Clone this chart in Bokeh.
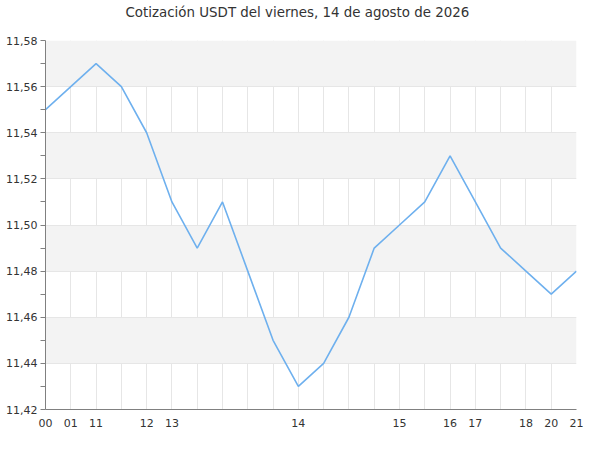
from bokeh.plotting import figure
from bokeh.models import FixedTicker, CustomJSTickFormatter, Range1d, Title
from bokeh.embed import file_html
from bokeh.resources import INLINE

# Data
idx = list(range(22))
valores = [11.55, 11.56, 11.57, 11.56, 11.54, 11.51, 11.49, 11.51, 11.48, 11.45, 11.43,
           11.44, 11.46, 11.49, 11.50, 11.51, 11.53, 11.51, 11.49, 11.48, 11.47, 11.48]
tick_pos = [0, 1, 2, 4, 5, 10, 14, 16, 17, 19, 20, 21]
tick_labels = ["00", "01", "11", "12", "13", "14", "15", "16", "17", "18", "20", "21"]
y_ticks = [11.42, 11.44, 11.46, 11.48, 11.50, 11.52, 11.54, 11.56, 11.58]
y_minor = [11.43, 11.45, 11.47, 11.49, 11.51, 11.53, 11.55, 11.57]
titulo = "Cotización USDT del viernes, 14 de agosto de 2026"

FONT = "DejaVu Sans"

p = figure(width=584, height=434, output_backend="svg", toolbar_location=None,
           x_range=Range1d(0, 21), y_range=Range1d(11.42, 11.58),
           min_border_left=45, min_border_right=8, min_border_top=40, min_border_bottom=25)
p.outline_line_color = None
p.background_fill_color = "white"
p.border_fill_color = "white"

spacer = Title(text=" ", text_font_size="2px", standoff=17)
p.add_layout(spacer, "above")
t = Title(text=titulo, align="left", vertical_align="bottom", text_font=FONT,
          text_font_size="13.4px", text_font_style="normal", text_color="#333333",
          offset=80, standoff=0)
p.add_layout(t, "above")

p.line(idx, valores, line_color="#6eb0ee", line_width=1.6)

# Y axis
ya = p.yaxis[0]
ya.ticker = FixedTicker(ticks=y_ticks, minor_ticks=y_minor)
ya.formatter = CustomJSTickFormatter(code="return tick.toFixed(2).replace('.', ',');")
ya.axis_line_color = "#808080"
ya.major_tick_line_color = "#808080"
ya.minor_tick_line_color = "#808080"
ya.major_tick_out = 5
ya.major_tick_in = 0
ya.minor_tick_out = 5
ya.minor_tick_in = 0
ya.major_label_standoff = 3
ya.major_label_text_font = FONT
ya.major_label_text_font_size = "11px"
ya.major_label_text_color = "#333333"

# X axis
xa = p.xaxis[0]
xa.ticker = FixedTicker(ticks=tick_pos)
xa.major_label_overrides = {pos: lab for pos, lab in zip(tick_pos, tick_labels)}
xa.axis_line_color = "#808080"
xa.major_tick_line_color = None
xa.minor_tick_line_color = None
xa.major_tick_out = 0
xa.major_tick_in = 0
xa.major_label_standoff = 9
xa.major_label_text_font = FONT
xa.major_label_text_font_size = "11px"
xa.major_label_text_color = "#333333"

# Grids
p.xgrid.ticker = FixedTicker(ticks=idx)
p.xgrid.grid_line_color = "#e6e6e6"
p.ygrid.ticker = FixedTicker(ticks=y_ticks)
p.ygrid.grid_line_color = "#e6e6e6"
p.ygrid.band_fill_color = "#f3f3f3"
p.ygrid.band_fill_alpha = 1.0

open("out.html", "w").write(file_html(p, INLINE))
